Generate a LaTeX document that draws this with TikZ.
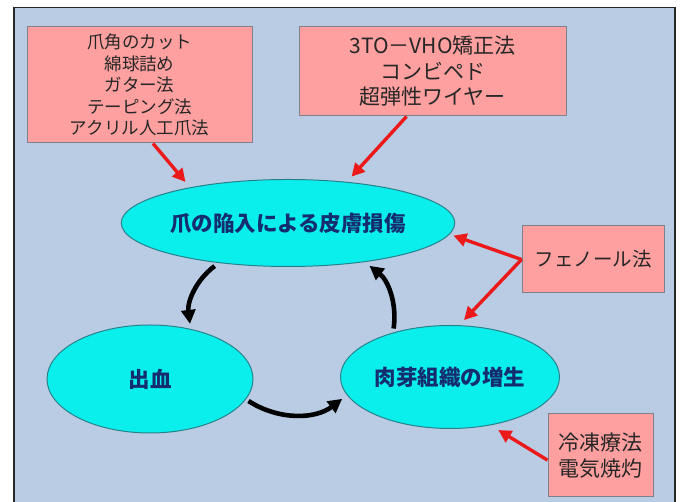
\documentclass[tikz,border=0pt]{standalone}
\usepackage{fontspec}
\setmainfont{Noto Sans CJK JP}
\usetikzlibrary{shapes.geometric,arrows.meta}
\definecolor{panel}{RGB}{185,204,228}
\definecolor{pinkfill}{RGB}{255,160,160}
\definecolor{pinkline}{RGB}{128,128,140}
\definecolor{cyanfill}{RGB}{10,238,236}
\definecolor{cyanline}{RGB}{40,130,140}
\definecolor{navytext}{RGB}{20,45,110}
\definecolor{redline}{RGB}{235,25,25}
\begin{document}
\begin{tikzpicture}[x=1pt,y=1pt,
  pinkbox/.style={draw=pinkline,line width=1pt,fill=pinkfill,inner sep=0pt,align=center,text=black!85},
  cyanell/.style={ellipse,draw=cyanline,line width=1pt,fill=cyanfill,inner sep=0pt,text=navytext,font=\fontsize{21.5}{24}\selectfont\bfseries},
  redarrow/.style={draw=redline,line width=3.4pt,-{Triangle[length=13pt,width=13pt]}},
  cyclearrow/.style={draw=black,line width=4.6pt,-{Triangle[length=14pt,width=14pt]}}]
\useasboundingbox (0,0) rectangle (683,502);
\fill[white] (0,0) rectangle (683,502);
\draw[fill=panel,draw=black!85,line width=1.5pt] (14,-5) rectangle (675,494.5);
% boxes
\node[pinkbox,minimum width=225pt,minimum height=116pt,font=\fontsize{17.5}{21.5}\selectfont] (box1) at (139.5,417)
  {爪角のカット\\綿球詰め\\ガター法\\テーピング法\\アクリル人工爪法};
\node[pinkbox,minimum width=267pt,minimum height=89pt,font=\fontsize{21}{25.5}\selectfont] (box2) at (432.5,430.5)
  {3TO－VHO矯正法\\コンビペド\\超弾性ワイヤー};
\node[pinkbox,minimum width=142pt,minimum height=67pt,font=\fontsize{19.5}{24}\selectfont] (box3) at (593,242.5)
  {フェノール法};
\node[pinkbox,minimum width=105pt,minimum height=83pt,font=\fontsize{21}{26}\selectfont] (box4) at (600.5,46.5)
  {冷凍療法\\電気焼灼};
% ellipses
\node[cyanell,minimum width=282pt,minimum height=87pt] (e1) at (288,279) {爪の陥入による皮膚損傷};
\node[cyanell,minimum width=206pt,minimum height=108pt] (e2) at (150,123) {出血};
\node[cyanell,minimum width=219pt,minimum height=103pt] (e3) at (450,125) {肉芽組織の増生};
% red arrows
\draw[redarrow,shorten >=7pt] (box1.-77) -- (e1.160);
\draw[redarrow,shorten >=7pt] (box2.-120) -- (e1.35);
\draw[redarrow,shorten >=4pt] (box3.west) -- (e1.-4);
\draw[redarrow,shorten >=7pt] (box3.west) -- (e3.80);
\draw[redarrow,shorten >=9pt] (box4.185) -- (e3.-50);
% cycle arrows
\draw[cyclearrow,shorten <=5pt,shorten >=5pt] (e1.210) to[bend right=30] (e2.51);
\draw[cyclearrow,shorten <=3pt,shorten >=6pt] (e2.-12) to[bend right=35] (e3.190);
\draw[cyclearrow,shorten <=4pt,shorten >=6pt] (e3.142) to[bend right=30] (e1.-27);
\end{tikzpicture}
\end{document}
